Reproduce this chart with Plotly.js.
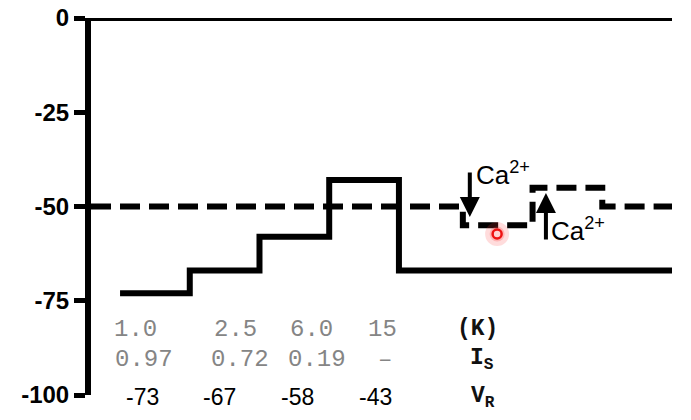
<!DOCTYPE html>
<html>
<head>
<meta charset="utf-8">
<script src="https://cdn.plot.ly/plotly-3.0.1.min.js"></script>
<style>html,body{margin:0;padding:0;background:#fff}#chart{width:691px;height:420px}</style>
</head>
<body>
<div id="chart"></div>
<script>
// ---- data ----
const stepStart = [5, 17, 29, 41, 53, 100];        // time of each K step (a.u.)
const restingV = [-73, -67, -58, -43, -67, -67];    // membrane potential (mV), solid line
const ctrlTime = [0, 64, 76, 88, 100];              // time (a.u.) dashed line
const ctrlV = [-50, -55, -45, -50, -50];            // membrane potential (mV), dashed line
const kConc = ['1.0', '2.5', '6.0', '15'];
const isVals = ['0.97', '0.72', '0.19', '–'];
const vrVals = [-73, -67, -58, -43];
const rowLabels = ['<b>(K)</b>', '<b>I<sub>S</sub></b>', '<b>V<sub>R</sub></b>'];
const yTicks = [0, -25, -50, -75, -100];
const markPoint = {x: [69.9], y: [-57.3]};
const caArrowTips = {x: [65.2, 78.3], y: [-52.8, -46.4]};

// ---- positions (layout only) ----
const kX = [7.6, 24.8, 37.9, 50.1];
const isX = [9.1, 25.6, 38.9, 50.6];
const vrX = [8.8, 22.2, 35.5, 48.9];
const labelX = [66.6, 67.3, 67.5];
const rowY = [-82.6, -90.6, -100];
const rowShift = [0, 0, -2];

const traces = [
  {x: stepStart, y: restingV, mode: 'lines', line: {shape: 'hv', color: '#000', width: 6}, hoverinfo: 'none', cliponaxis: false},
  {x: ctrlTime, y: ctrlV, mode: 'lines', line: {shape: 'hv', color: '#000', width: 6, dash: '20px,9px'}, hoverinfo: 'none', cliponaxis: false},
  {x: markPoint.x, y: markPoint.y, mode: 'markers', marker: {size: 24, color: 'rgba(255,60,60,0.18)'}, hoverinfo: 'none'},
  {x: markPoint.x, y: markPoint.y, mode: 'markers', marker: {size: 15, color: 'rgba(255,60,60,0.25)'}, hoverinfo: 'none'},
  {x: markPoint.x, y: markPoint.y, mode: 'markers', marker: {size: 9, color: '#ffd0d0', line: {color: '#ee1111', width: 2.5}}, hoverinfo: 'none'}
];

const ann = [];
const mono = 'Liberation Mono, Courier New, monospace';
const grey = '#858585';
kConc.forEach((t, i) => ann.push({x: kX[i], y: rowY[0], xref: 'x', yref: 'y', text: t, showarrow: false, xanchor: 'center', yanchor: 'middle', font: {family: mono, size: 24, color: grey}}));
isVals.forEach((t, i) => ann.push({x: isX[i], y: rowY[1], xref: 'x', yref: 'y', text: t, showarrow: false, xanchor: 'center', yanchor: 'middle', font: {family: mono, size: 24, color: grey}}));
vrVals.forEach((v, i) => ann.push({x: vrX[i], y: rowY[2], yshift: rowShift[2], xref: 'x', yref: 'y', text: String(v), showarrow: false, xanchor: 'center', yanchor: 'middle', font: {family: 'Liberation Sans, Arial', size: 23, color: '#000'}}));
rowLabels.forEach((t, i) => ann.push({x: labelX[i], y: rowY[i], yshift: rowShift[i], xref: 'x', yref: 'y', text: t, showarrow: false, xanchor: 'center', yanchor: 'middle', font: {family: mono, size: 23, color: '#111'}}));

// Ca2+ arrows
ann.push({x: caArrowTips.x[0], y: caArrowTips.y[0], xref: 'x', yref: 'y', ax: 0, ay: -46, text: '', showarrow: true, arrowhead: 2, arrowsize: 1, arrowwidth: 4, arrowcolor: '#000'});
ann.push({x: caArrowTips.x[1], y: caArrowTips.y[1], xref: 'x', yref: 'y', ax: 0, ay: 48, text: '', showarrow: true, arrowhead: 2, arrowsize: 1, arrowwidth: 4, arrowcolor: '#000'});
ann.push({x: 66.0, y: -41.2, xref: 'x', yref: 'y', text: 'Ca<sup>2+</sup>', showarrow: false, xanchor: 'left', yanchor: 'middle', font: {family: 'Liberation Sans, Arial', size: 26, color: '#000'}});
ann.push({x: 78.9, y: -56.2, xref: 'x', yref: 'y', text: 'Ca<sup>2+</sup>', showarrow: false, xanchor: 'left', yanchor: 'middle', font: {family: 'Liberation Sans, Arial', size: 26, color: '#000'}});

const layout = {
  width: 691, height: 420,
  margin: {l: 91, r: 19, t: 18, b: 25},
  paper_bgcolor: '#fff', plot_bgcolor: '#fff',
  showlegend: false,
  xaxis: {range: [0, 100], visible: false, fixedrange: true},
  yaxis: {
    range: [-100, 0], tickvals: yTicks, ticktext: yTicks.map(String),
    showgrid: false, zeroline: false, showline: true, linecolor: '#000', linewidth: 6,
    ticks: 'outside', ticklen: 11, tickwidth: 5, tickcolor: '#000',
    tickfont: {family: 'Liberation Sans, Arial', size: 24, color: '#000', weight: 'bold'},
    fixedrange: true
  },
  shapes: [
    {type: 'line', xref: 'paper', yref: 'y', x0: -0.005, x1: 1, y0: 0, y1: 0, line: {color: '#000', width: 6}}
  ],
  annotations: ann
};

Plotly.newPlot('chart', traces, layout, {staticPlot: true, displayModeBar: false});
</script>
</body>
</html>
